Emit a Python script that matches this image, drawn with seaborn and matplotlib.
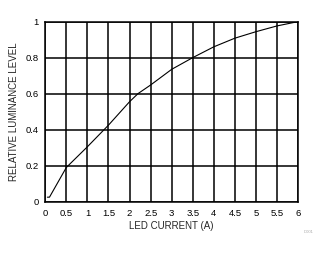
import matplotlib
matplotlib.use("Agg")
import matplotlib.pyplot as plt
import seaborn as sns
import pandas as pd

current = [0.05, 0.1, 0.5, 1.0, 1.5, 2.0, 2.2, 2.5, 3.0, 3.5, 4.0, 4.5, 5.0, 5.5, 6.0]
luminance = [0.025, 0.025, 0.19, 0.305, 0.425, 0.555, 0.6, 0.648, 0.735, 0.80, 0.86, 0.908, 0.944, 0.976, 1.0]
xticks = [0, 0.5, 1, 1.5, 2, 2.5, 3, 3.5, 4, 4.5, 5, 5.5, 6]
xtick_labels = ["0", "0.5", "1", "1.5", "2", "2.5", "3", "3.5", "4", "4.5", "5", "5.5", "6"]
yticks = [0, 0.2, 0.4, 0.6, 0.8, 1]
ytick_labels = ["0", "0.2", "0.4", "0.6", "0.8", "1"]

sns.set_style("white")
plt.rcParams['font.family'] = ['Liberation Sans', 'DejaVu Sans']

df = pd.DataFrame({"current": current, "luminance": luminance})

fig = plt.figure(figsize=(3.28, 2.54), dpi=100)
ax = fig.add_axes([0.138, 0.206, 0.771, 0.709])
sns.lineplot(data=df, x="current", y="luminance", ax=ax, color="black", linewidth=0.8)

ax.set_xlim(0, 6)
ax.set_ylim(0, 1)
ax.set_xticks(xticks)
ax.set_xticklabels(xtick_labels)
ax.set_yticks(yticks)
ax.set_yticklabels(ytick_labels)
ax.tick_params(axis="x", length=0, labelsize=6.8, pad=5.5, colors="black")
ax.tick_params(axis="y", length=0, labelsize=6.8, pad=4.5, colors="black")
ax.grid(True, color="black", linewidth=1.1)
for s in ax.spines.values():
    s.set_color("black")
    s.set_linewidth(1.1)
    s.set_visible(True)
ax.set_xlabel("LED CURRENT (A)", fontsize=7.0, labelpad=2)
ax.set_ylabel("RELATIVE LUMINANCE LEVEL", fontsize=7.0, labelpad=5)
fig.text(0.955, 0.087, "D001", fontsize=3.0, color="#aaaaaa", ha="right", va="center")

fig.savefig("out.png", dpi=100)
